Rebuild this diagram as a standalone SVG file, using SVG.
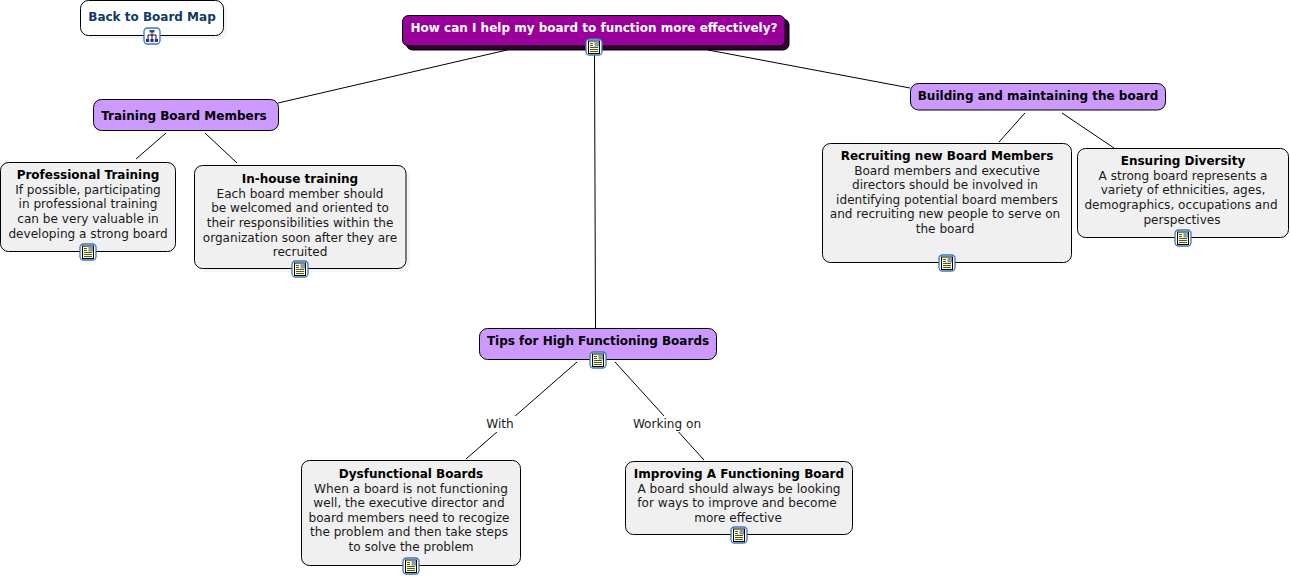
<svg xmlns="http://www.w3.org/2000/svg" width="1290" height="578" viewBox="0 0 1290 578">
<style>
text{font-family:"DejaVu Sans","Liberation Sans",sans-serif;font-size:12.1px;text-anchor:middle;fill:#1a1a1a}
text.b{font-weight:bold;font-size:12px;fill:#000}
.box{fill:#f0f0f0;stroke:#000;stroke-width:1}
.sub{fill:#cc99ff;stroke:#000;stroke-width:1}
.sh{fill:#e8eef2;opacity:.6}
#connectors line{stroke:#000;stroke-width:1}
</style>
<defs>
<g id="doc">
<rect x="-8" y="-8" width="16" height="16" rx="3.500" fill="#fff" stroke="#3a76c0" stroke-width="1.300"/>
<rect x="-5.500" y="-6" width="11" height="12.500" fill="#ffffc4" stroke="#000" stroke-width="1"/>
<rect x="0.500" y="-5.500" width="4.500" height="5" fill="#6f9fd0"/>
<rect x="2" y="-4.500" width="2" height="2" fill="#d08a80"/>
<path d="M-4-3.500h3M-4-1.500h3M-4 .5h8M-4 2.500h8M-4 4.500h8" stroke="#222" stroke-width=".8" fill="none"/>
</g>
<g id="map">
<rect x="-8" y="-8" width="16" height="16" rx="3.500" fill="#fff" stroke="#3a76c0" stroke-width="1.300"/>
<path d="M0-3.500V-1M-4 3V-1H4V3M0-1V3" stroke="#111" stroke-width="1" fill="none"/>
<rect x="-2.500" y="-6" width="5" height="2.500" fill="#3344aa"/>
<rect x="-6" y="3" width="3.200" height="3" fill="#2a3388"/>
<rect x="-1.600" y="3" width="3.200" height="3" fill="#2a3388"/>
<rect x="2.800" y="3" width="3.200" height="3" fill="#2a3388"/>
</g>
</defs>
<rect width="1290" height="578" fill="#fff"/>
<g id="connectors">
<line x1="507" y1="50" x2="278" y2="103"/>
<line x1="708" y1="50" x2="910" y2="88"/>
<line x1="594.500" y1="54" x2="595.500" y2="328"/>
<line x1="166" y1="133" x2="136" y2="159"/>
<line x1="205" y1="133" x2="237" y2="163"/>
<line x1="1025" y1="113" x2="999" y2="142"/>
<line x1="1062" y1="113" x2="1114" y2="148"/>
<line x1="577" y1="362" x2="466" y2="459"/>
<line x1="615" y1="362" x2="704" y2="460"/>
<rect x="484" y="416" width="32" height="16" fill="#fff"/>
<rect x="631" y="416" width="72" height="16" fill="#fff"/>
<text x="500" y="428">With</text>
<text x="667" y="428">Working on</text>
</g>
<g id="back">
<rect class="sh" x="84" y="4" width="143" height="35" rx="8"/>
<rect x="80.500" y="0.500" width="143" height="35" rx="8" fill="#fff" stroke="#000"/>
<text class="b" x="152" y="21" style="fill:#0f3a68">Back to Board Map</text>
<use href="#map" x="152" y="36"/>
</g>
<g id="main">
<rect x="406.500" y="19" width="382.500" height="31" rx="6" fill="#330033" stroke="#000"/>
<rect x="402.500" y="15.500" width="382.500" height="30.500" rx="6" fill="#990099" stroke="#000"/>
<text class="b" x="594" y="32" style="fill:#fff">How can I help my board to function more effectively?</text>
<use href="#doc" x="594" y="47"/>
</g>
<g id="training">
<rect class="sub" x="93.500" y="99.500" width="185" height="31" rx="8"/>
<text class="b" x="184" y="120">Training Board Members</text>
</g>
<g id="building">
<rect class="sub" x="910.500" y="83.500" width="255" height="26.500" rx="8"/>
<text class="b" x="1038" y="100">Building and maintaining the board</text>
</g>
<g id="tips">
<rect class="sub" x="479.500" y="328.500" width="237" height="31" rx="8"/>
<text class="b" x="598" y="345">Tips for High Functioning Boards</text>
<use href="#doc" x="598" y="360"/>
</g>
<g id="professional">
<rect class="box" x="0.500" y="162.500" width="175" height="89" rx="8"/>
<text class="b" x="88" y="179">Professional Training</text>
<text x="88" y="194">If possible, participating</text>
<text x="88" y="208">in professional training</text>
<text x="88" y="223">can be very valuable in</text>
<text x="88" y="238">developing a strong board</text>
<use href="#doc" x="88" y="252"/>
</g>
<g id="inhouse">
<rect class="sh" x="198" y="169" width="212" height="103" rx="8"/>
<rect class="box" x="194.500" y="165.500" width="211.500" height="103" rx="8"/>
<text class="b" x="300" y="183">In-house training</text>
<text x="300" y="198">Each board member should</text>
<text x="300" y="212">be welcomed and oriented to</text>
<text x="300" y="227">their responsibilities within the</text>
<text x="300" y="242">organization soon after they are</text>
<text x="300" y="256">recruited</text>
<use href="#doc" x="300" y="269"/>
</g>
<g id="recruiting">
<rect class="box" x="822.500" y="143.500" width="249" height="119" rx="8"/>
<text class="b" x="947" y="160">Recruiting new Board Members</text>
<text x="947" y="175">Board members and executive</text>
<text x="945" y="189">directors should be involved in</text>
<text x="947" y="204">identifying potential board members</text>
<text x="945" y="218">and recruiting new people to serve on</text>
<text x="945" y="233">the board</text>
<use href="#doc" x="947" y="263"/>
</g>
<g id="diversity">
<rect class="box" x="1077.500" y="148.500" width="211" height="89" rx="8"/>
<text class="b" x="1183" y="165">Ensuring Diversity</text>
<text x="1183" y="180">A strong board represents a</text>
<text x="1183" y="194">variety of ethnicities, ages,</text>
<text x="1181" y="209">demographics, occupations and</text>
<text x="1182" y="224">perspectives</text>
<use href="#doc" x="1183" y="238"/>
</g>
<g id="dysfunctional">
<rect class="box" x="301.500" y="460.500" width="219" height="105" rx="8"/>
<text class="b" x="411" y="478">Dysfunctional Boards</text>
<text x="411" y="493">When a board is not functioning</text>
<text x="409" y="507">well, the executive director and</text>
<text x="409" y="522">board members need to recogize</text>
<text x="409" y="536">the problem and then take steps</text>
<text x="411" y="551">to solve the problem</text>
<use href="#doc" x="411" y="566"/>
</g>
<g id="improving">
<rect class="box" x="625.500" y="461.500" width="227" height="73" rx="8"/>
<text class="b" x="739" y="478">Improving A Functioning Board</text>
<text x="739" y="493">A board should always be looking</text>
<text x="737" y="507">for ways to improve and become</text>
<text x="738" y="522">more effective</text>
<use href="#doc" x="739" y="535"/>
</g>
</svg>
